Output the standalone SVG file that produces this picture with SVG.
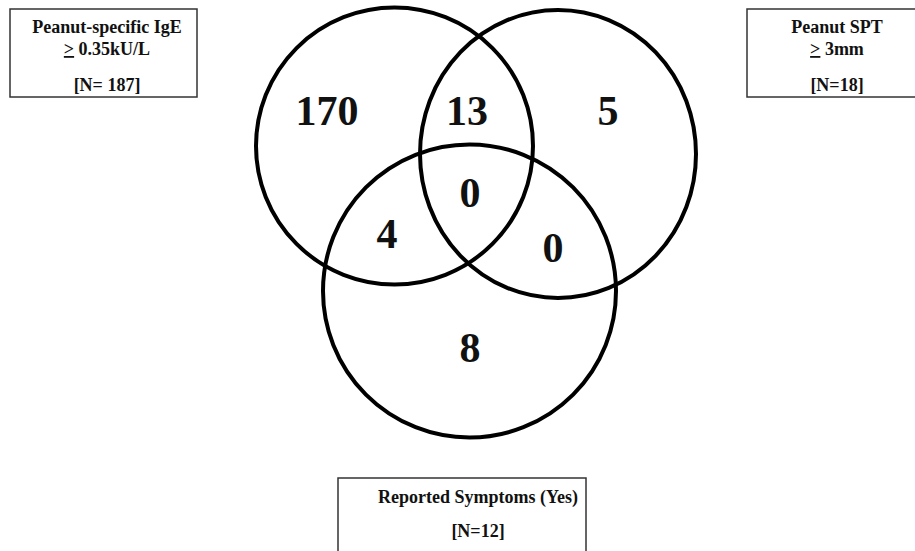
<svg xmlns="http://www.w3.org/2000/svg" width="915" height="551" viewBox="0 0 915 551">
<style>
.c{fill:none;stroke:#000;stroke-width:4}
.b{fill:#fff;stroke:#333;stroke-width:1.5}
.t{font-family:"Liberation Serif","Times New Roman",serif;font-weight:bold;font-size:18px;fill:#111;text-anchor:middle}
.n{font-family:"Liberation Serif","Times New Roman",serif;font-weight:bold;font-size:42px;fill:#111;text-anchor:middle}
.u{text-decoration:underline}
</style>
<rect width="915" height="551" fill="#fff"/>
<g id="box-ige">
<rect class="b" x="10" y="9" width="187" height="88"/>
<text class="t" x="107" y="33">Peanut-specific IgE</text>
<text class="t" x="107" y="55"><tspan class="u">&gt;</tspan> 0.35kU/L</text>
<text class="t" x="107" y="91">[N= 187]</text>
</g>
<g id="box-spt">
<rect class="b" x="747" y="9" width="172" height="88"/>
<text class="t" x="837" y="33">Peanut SPT</text>
<text class="t" x="837" y="55"><tspan class="u">&gt;</tspan> 3mm</text>
<text class="t" x="837" y="91">[N=18]</text>
</g>
<g id="box-symptoms">
<rect class="b" x="338" y="478" width="248" height="80"/>
<text class="t" x="478" y="503">Reported Symptoms (Yes)</text>
<text class="t" x="478" y="537">[N=12]</text>
</g>
<g id="venn">
<circle id="set-ige" class="c" cx="394.5" cy="146" r="138.5"/>
<ellipse id="set-spt" class="c" cx="558" cy="154" rx="138" ry="144"/>
<circle id="set-symptoms" class="c" cx="469.5" cy="291" r="146.5"/>
</g>
<g id="counts">
<text class="n" x="327" y="125">170</text>
<text class="n" x="467" y="125">13</text>
<text class="n" x="608" y="125">5</text>
<text class="n" x="470" y="207">0</text>
<text class="n" x="387" y="248">4</text>
<text class="n" x="553" y="262">0</text>
<text class="n" x="470" y="362">8</text>
</g>
</svg>
